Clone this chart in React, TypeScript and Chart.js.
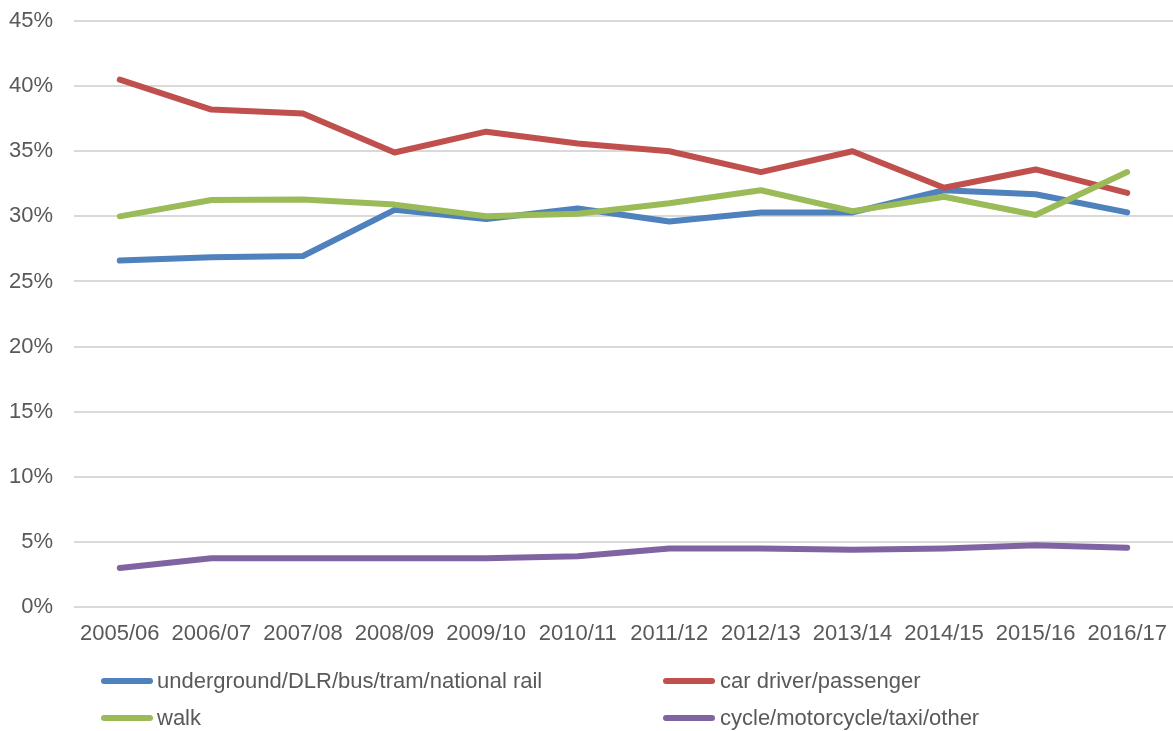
import React, { useEffect, useRef } from "react";
import { Chart, registerables } from "chart.js";

Chart.register(...registerables);

const categories = ["2005/06", "2006/07", "2007/08", "2008/09", "2009/10", "2010/11", "2011/12", "2012/13", "2013/14", "2014/15", "2015/16", "2016/17"];
const transitValues = [26.6, 26.85, 26.95, 30.5, 29.8, 30.6, 29.6, 30.3, 30.3, 32.0, 31.7, 30.3];
const carValues = [40.5, 38.2, 37.9, 34.9, 36.5, 35.6, 35.0, 33.4, 35.0, 32.2, 33.6, 31.8];
const walkValues = [30.0, 31.25, 31.3, 30.9, 30.0, 30.2, 31.0, 32.0, 30.4, 31.5, 30.1, 33.4];
const otherValues = [3.0, 3.75, 3.75, 3.75, 3.75, 3.9, 4.5, 4.5, 4.4, 4.5, 4.75, 4.55];
const yTicks = [0, 5, 10, 15, 20, 25, 30, 35, 40, 45];

const seriesNames = ["underground/DLR/bus/tram/national rail", "car driver/passenger", "walk", "cycle/motorcycle/taxi/other"];
const seriesColors = ["#4f81bd", "#c0504d", "#9bbb59", "#8064a2"];

const FONT = "'Liberation Sans', Arial, sans-serif";
const TEXT = "#595959";

export default function App() {
  const ref = useRef<HTMLCanvasElement | null>(null);

  useEffect(() => {
    if (!ref.current) return;
    const seriesData = [transitValues, carValues, walkValues, otherValues];
    const chart = new Chart(ref.current, {
      type: "line",
      data: {
        labels: categories,
        datasets: seriesData.map((d, i) => ({
          label: seriesNames[i],
          data: d,
          borderColor: seriesColors[i],
          backgroundColor: seriesColors[i],
          borderWidth: 6,
          borderCapStyle: "round" as const,
          borderJoinStyle: "round" as const,
          pointRadius: 0,
          pointHoverRadius: 0,
          tension: 0,
          fill: false,
          order: 4 - i,
        })),
      },
      options: {
        animation: false,
        responsive: false,
        maintainAspectRatio: false,
        layout: { padding: { left: 9, top: 21, right: 0, bottom: 84 } },
        plugins: { legend: { display: false }, tooltip: { enabled: false } },
        scales: {
          x: {
            offset: true,
            grid: { display: false, drawTicks: false },
            border: { display: false },
            ticks: { color: TEXT, font: { family: FONT, size: 22 }, padding: 14, maxRotation: 0, autoSkip: false },
            afterFit: (scale: any) => {
              scale.paddingLeft = 0;
              scale.paddingRight = 0;
              scale.height = 40;
            },
          },
          y: {
            min: 0,
            max: 45,
            afterBuildTicks: (axis: any) => {
              axis.ticks = yTicks.map((v) => ({ value: v }));
            },
            grid: { color: "#d9d9d9", lineWidth: 2, drawTicks: false },
            border: { display: false },
            ticks: {
              color: TEXT,
              font: { family: FONT, size: 22 },
              padding: 21,
              callback: (v: any) => `${v}%`,
            },
            afterFit: (scale: any) => {
              scale.paddingTop = 0;
              scale.paddingBottom = 0;
              scale.width = 65;
            },
          },
        },
      },
    });
    return () => chart.destroy();
  }, []);

  const legendItems = [
    { i: 0, x: 101, y: 681, tx: 157 },
    { i: 1, x: 663, y: 681, tx: 720 },
    { i: 2, x: 101, y: 718, tx: 157 },
    { i: 3, x: 663, y: 718, tx: 720 },
  ];

  return (
    <div style={{ position: "absolute", left: 0, top: 0, width: 1173, height: 731, background: "#fff", overflow: "hidden" }}>
      <canvas ref={ref} width={1173} height={731} style={{ display: "block", width: 1173, height: 731 }} />
      {legendItems.map((it) => (
        <React.Fragment key={it.i}>
          <div
            style={{
              position: "absolute",
              left: it.x,
              top: it.y - 3,
              width: 52,
              height: 6,
              borderRadius: 3,
              background: seriesColors[it.i],
            }}
          />
          <div
            style={{
              position: "absolute",
              left: it.tx,
              top: it.y - 14,
              height: 28,
              lineHeight: "28px",
              fontFamily: FONT,
              fontSize: 22,
              color: TEXT,
              whiteSpace: "nowrap",
            }}
          >
            {seriesNames[it.i]}
          </div>
        </React.Fragment>
      ))}
    </div>
  );
}
